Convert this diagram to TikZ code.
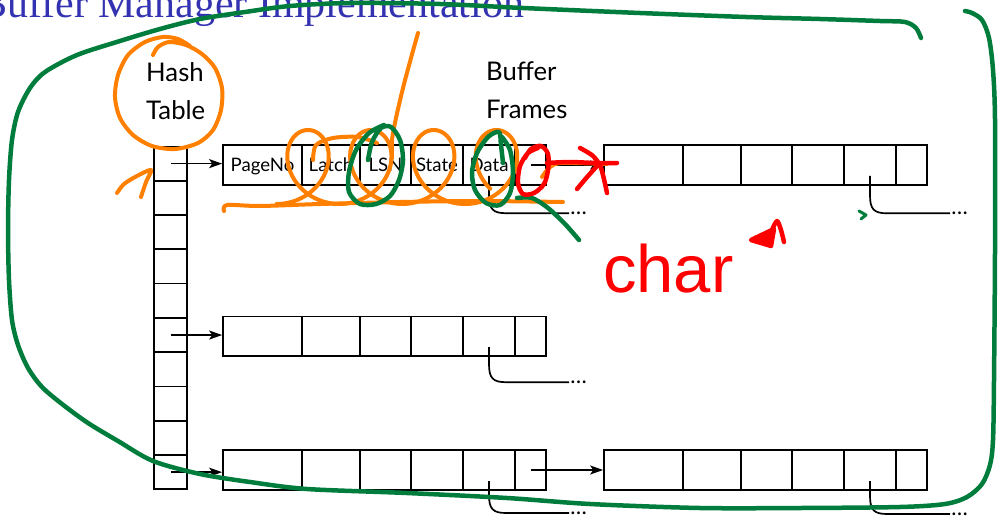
\documentclass[tikz,border=0pt]{standalone}
\usepackage{fontspec}
\setmainfont{Lato}
\newfontfamily\titlefont{Liberation Serif}
\newfontfamily\handfont{Liberation Sans}
\usetikzlibrary{arrows.meta,calc}

\definecolor{titleblue}{RGB}{51,51,178}
\definecolor{penorange}{RGB}{255,128,0}
\definecolor{pengreen}{RGB}{0,125,60}
\definecolor{penred}{RGB}{255,0,0}

\tikzset{
  wire/.style={line width=1.7pt, draw=black},
  ptr/.style={wire, -{Stealth[length=13pt,width=9pt,inset=3pt]}},
  cellbox/.style={draw, line width=1.7pt, inner sep=0pt, minimum height=39.5pt,
    text height=13.4pt, text depth=0.5pt, font=\fontsize{18.6}{18.6}\selectfont},
  hashcell/.style={draw, line width=1.7pt, inner sep=0pt, minimum width=33pt, minimum height=34.28pt},
  headtext/.style={inner sep=0pt, anchor=west, align=left, font=\fontsize{25.7}{37.5}\selectfont},
  dotstext/.style={inner sep=0.5pt, anchor=west, font=\fontsize{22}{22}\selectfont},
  orangepen/.style={draw=penorange, line width=4pt, line cap=round, line join=round},
  greenpen/.style={draw=pengreen, line width=4.5pt, line cap=round, line join=round},
  redpen/.style={draw=penred, line width=4.5pt, line cap=round, line join=round},
}

% one buffer frame: six cells, #1 name prefix, #2 x offset, #3 y of the centre line
\newcommand\emptyrow[3]{%
  \node[cellbox, minimum width=79pt] (#1c1) at ({262.5+#2},#3) {};
  \node[cellbox, minimum width=58pt] (#1c2) at ({331+#2},#3) {};
  \node[cellbox, minimum width=51pt] (#1c3) at ({385.5+#2},#3) {};
  \node[cellbox, minimum width=52pt] (#1c4) at ({437+#2},#3) {};
  \node[cellbox, minimum width=52pt] (#1c5) at ({489+#2},#3) {};
  \node[cellbox, minimum width=31pt] (#1c6) at ({530.5+#2},#3) {};
}

% pointer leaving the data cell: #1 cell, #2 drop of the horizontal run
\newcommand\dataptr[2]{%
  \draw[wire] ($(#1.center)+(0,11)$) -- ($(#1.center)+(0,#2-18)$)
    .. controls ($(#1.center)+(0,#2-4)$) and ($(#1.center)+(4,#2)$) .. ($(#1.center)+(17,#2)$)
    -- ($(#1.center)+(80,#2)$) node[dotstext] {\dots};
}

\begin{document}
\begin{tikzpicture}[x=1pt, y=-1pt]
\useasboundingbox (0,0) rectangle (1000,519);
\clip (0,0) rectangle (1000,519);

% slide title
\node[anchor=base west, inner sep=0pt, text=titleblue,
      font=\titlefont\fontsize{42}{42}\selectfont] (title) at (-21,18) {Buffer Manager Implementation};

% headings
\node[headtext] (hashlbl) at (146,91) {Hash\\Table};
\node[headtext] (framelbl) at (486,90) {Buffer\\Frames};

% hash table column
\foreach \k in {1,...,10}
  \node[hashcell] (h\k) at (170.5,{146.5+34.28*(\k-0.5)}) {};

% first frame with field names
\node[cellbox, minimum width=79pt] (rac1) at (262.5,164.9) {PageNo};
\node[cellbox, minimum width=58pt] (rac2) at (331,164.9) {Latch};
\node[cellbox, minimum width=51pt] (rac3) at (385.5,164.9) {LSN};
\node[cellbox, minimum width=52pt] (rac4) at (437,164.9) {State};
\node[cellbox, minimum width=52pt] (rac5) at (489,164.9) {Data};
\node[cellbox, minimum width=31pt] (rac6) at (530.5,164.9) {};

% remaining frames
\emptyrow{rb}{381}{164.9}
\emptyrow{rc}{0}{336.2}
\emptyrow{rd}{0}{470}
\emptyrow{re}{381}{470}

% bucket pointers and chain links
\draw[ptr] (h1.center) -- (h1.center -| rac1.west);
\draw[ptr] (h6.center) -- (h6.center -| rcc1.west);
\draw[ptr] (h10.center) -- (h10.center -| rdc1.west);
\draw[ptr] (rac6.center) -- (rac6.center -| rbc1.west);
\draw[ptr] (rdc6.center) -- (rdc6.center -| rec1.west);

% data pointers
\dataptr{rac5}{48.3}
\dataptr{rbc5}{48.4}
\dataptr{rcc5}{46}
\dataptr{rdc5}{43}
\dataptr{rec5}{44}

% ---- orange pen ----
\draw[orangepen] plot[smooth] coordinates {(190,46) (178,39) (163,37) (145,42) (128,55) (118,75) (115,97) (120,118) (133,135) (152,146) (175,149) (198,143) (213,130) (221,110) (222,88) (215,68) (202,54) (186,45) (169,42) (158,47) (153,55)};
\draw[orangepen] plot[smooth] coordinates {(117,193) (124,184) (137,176) (151,170) (146,182) (141,197)};
\draw[orangepen] plot[smooth] coordinates {(418,33) (411,58) (403,88) (396,118) (392,140) (392,158)};
\draw[orangepen] plot[domain=-3.1416:21.05, samples=260, variable=\t]
  ({308+10*\t-35*sin(\t r)}, {167-37*cos(\t r)});
\draw[orangepen] plot[smooth] coordinates {(313,160) (316,145) (333,138) (358,137) (377,143)};
\draw[orangepen] plot[smooth] coordinates {(224,211) (227,205) (260,206) (320,204) (400,202) (480,201) (563,202)};
\draw[orangepen] plot[smooth] coordinates {(542,177) (550,167) (562,163) (607,164)};

% ---- green pen ----
\draw[greenpen] plot[smooth] coordinates {(921,38) (916,28) (905,22) (880,21) (820,19) (746,17) (640,13) (523,8) (440,4) (350,3) (290,6) (245,12) (200,19) (160,29) (120,41) (77,55) (45,72) (30,88) (18,112) (12,140) (9,180) (8,230) (9,280) (12,320) (18,345) (28,368) (42,387) (62,404) (88,423) (118,441) (153,461) (200,474) (250,482) (307,489) (407,493) (507,498) (590,504) (700,508) (800,508) (900,507) (945,504) (967,497) (982,484) (990,465) (993,440) (994,380) (995,250) (995,120) (993,70) (989,38) (982,20) (972,13) (965,11)};
\draw[greenpen] plot[smooth] coordinates {(368,160) (372,142) (381,128) (391,127) (400,140) (403,160) (399,180) (390,196) (376,204) (360,204) (349,192) (349,172) (356,150) (369,133) (384,125)};
\draw[greenpen] plot[smooth] coordinates {(503,163) (501,145) (499,132) (488,137) (477,153) (472,172) (475,190) (486,203) (500,205) (510,193) (513,172) (510,150) (502,137)};
\draw[greenpen] plot[smooth] coordinates {(517,198) (532,198) (548,208) (565,224) (579,240)};
\draw[greenpen, line width=3pt] (859,211) -- (866,215) -- (861,219);

% ---- red pen ----
\draw[redpen] plot[smooth] coordinates {(525,158) (531,149) (541,146) (548,154) (548,170) (544,184) (534,193) (523,194) (518,183) (520,166) (528,153) (538,148)};
\draw[redpen] plot[smooth] coordinates {(547,163) (570,162) (595,163) (617,163)};
\draw[redpen] plot[smooth] coordinates {(580,148) (593,156) (601,168) (607,193)};
\draw[redpen] plot[smooth] coordinates {(577,189) (588,176) (598,165)};
\node[anchor=base west, inner sep=0pt, text=penred,
      font=\handfont\fontsize{67}{67}\selectfont] (note) at (603,292) {char};
\draw[redpen, fill=penred] (751,240) -- (774,229) -- (771,246) -- cycle;
\draw[redpen] plot[smooth] coordinates {(772,230) (777,221) (781,230) (784,242)};
\end{tikzpicture}
\end{document}
